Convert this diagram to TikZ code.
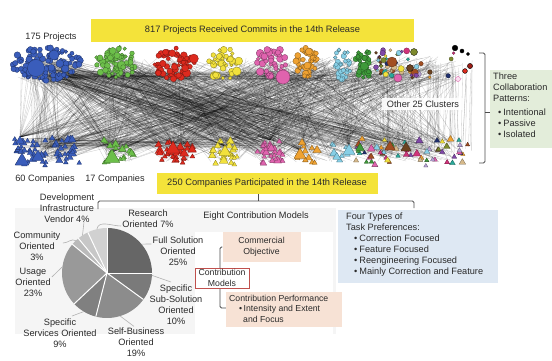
\documentclass[tikz,border=0pt]{standalone}
\usepackage{fontspec}
\setmainfont{Liberation Sans}
\usetikzlibrary{calc}
\definecolor{cblue}{HTML}{3A5DBB}
\definecolor{cgreen}{HTML}{6CBF4A}
\definecolor{cred}{HTML}{DD2A1E}
\definecolor{cyellow}{HTML}{F2E13C}
\definecolor{cpink}{HTML}{E063AE}
\definecolor{corange}{HTML}{EFA232}
\definecolor{ccyan}{HTML}{86CFE6}
\definecolor{cdgreen}{HTML}{3E9A3A}
\definecolor{cpurple}{HTML}{8048A8}
\definecolor{cbrown}{HTML}{A24E22}
\definecolor{cdbrown}{HTML}{6B4220}
\definecolor{colive}{HTML}{7D8A2E}
\definecolor{cteal}{HTML}{2AA99A}
\definecolor{clav}{HTML}{B7A2D6}
\definecolor{cmag}{HTML}{D0337A}
\definecolor{ctan}{HTML}{D6B98A}
\definecolor{cnavy}{HTML}{1F2F6E}
\definecolor{bannery}{HTML}{F4E33A}
\definecolor{peach}{HTML}{F7E2D5}
\definecolor{lblue}{HTML}{DEE8F3}
\definecolor{lgreen}{HTML}{E3EDDA}
\definecolor{txt}{HTML}{2A2A2A}
\definecolor{redbox}{HTML}{C0504D}
\definecolor{panel}{HTML}{F5F5F5}
\newcommand\circs[6]{%
\foreach \k in {1,...,#6}{%
\pgfmathsetmacro\aa{360*rnd}\pgfmathsetmacro\rf{sqrt(rnd)}%
\pgfmathsetmacro\px{#2+#4*\rf*cos(\aa)}%
\pgfmathsetmacro\py{#3+#5*\rf*sin(\aa)}%
\pgfmathsetmacro\rr{1.8+2.8*rnd*rnd}%
\filldraw[fill=#1,draw=#1!55!black,line width=0.3pt] (\px,\py) circle[radius=\rr pt];}}
\newcommand\onetri[4]{\filldraw[fill=#1,draw=#1!55!black,line width=0.3pt,line join=round] (#2,#3) +(0pt,#4 pt) -- +(-0.87*#4 pt,-0.5*#4 pt) -- +(0.87*#4 pt,-0.5*#4 pt) -- cycle;}
\newcommand\tris[6]{%
\foreach \k in {1,...,#6}{%
\pgfmathsetmacro\px{#2+#4*rand}%
\pgfmathsetmacro\py{#3+#5*rand}%
\pgfmathsetmacro\tsz{2.6+3*rnd*rnd}%
\onetri{#1}{\px}{\py}{\tsz}}}
\newcommand\hub[5]{% x y n spreadtop
\foreach \k in {1,...,#3}{%
\pgfmathsetmacro\xa{#4+#5*rnd}\pgfmathsetmacro\ya{58+22*rnd}%
\draw[netline] (\xa,\ya) -- (#1,#2);}}
\begin{document}
\begin{tikzpicture}[x=1pt,y=-1pt,
  lab/.style={font=\fontsize{9.2}{11}\selectfont, text=txt, inner sep=1pt},
  smalllab/.style={font=\fontsize{8.7}{10.8}\selectfont, text=txt, inner sep=1pt},
  ybox/.style={fill=bannery, font=\fontsize{9.3}{11}\selectfont, text=txt, inner sep=0pt},
  netline/.style={draw=black, opacity=0.21, line width=0.3pt},
  leader/.style={draw=gray!60, line width=0.6pt},
  brk/.style={draw=black!70, line width=0.8pt, rounded corners=1.5pt}]
\useasboundingbox (0,0) rectangle (552,360);
\pgfmathsetseed{7}
% background panel behind pie
\fill[panel] (15,208) rectangle (336,334);
\fill[white] (195,232) rectangle (333,334);
% ---------- network edges
\pgfmathdeclarerandomlist{tx}{{47}{47}{47}{47}{47}{117}{117}{117}{174}{174}{224}{272}{272}{307}{342}{364}{395}{420}{445}}
\pgfmathdeclarerandomlist{bx}{{47}{47}{47}{117}{117}{175}{175}{225}{270}{270}{270}{308}{340}{380}{400}{420}{445}}
\foreach \k in {1,...,850}{%
  \pgfmathrandomitem{\qa}{tx}\pgfmathrandomitem{\qb}{bx}%
  \pgfmathsetmacro\xa{\qa+18*rand}\pgfmathsetmacro\ya{68+12*rand}%
  \pgfmathsetmacro\xb{\qb+15*rand}\pgfmathsetmacro\yb{150+12*rand}%
  \draw[netline] (\xa,\ya) -- (\xb,\yb);}
\foreach \k in {1,...,60}{%
  \pgfmathsetmacro\xa{378+95*rnd}\pgfmathsetmacro\xb{\xa+5*rand}%
  \pgfmathsetmacro\ya{60+18*rnd}\pgfmathsetmacro\yb{140+15*rnd}%
  \draw[netline] (\xa,\ya) -- (\xb,\yb);}
\foreach \k in {1,...,40}{%
  \pgfmathsetmacro\xa{18+40*rnd}\pgfmathsetmacro\ya{138+10*rnd}%
  \pgfmathsetmacro\xb{200+100*rnd}\pgfmathsetmacro\yb{136+12*rnd}%
  \draw[netline] (\xa,\ya) -- (\xb,\yb);}
\foreach \k in {1,...,50}{%
  \pgfmathsetmacro\xa{20+60*rnd}\pgfmathsetmacro\ya{70+10*rnd}%
  \pgfmathsetmacro\xb{150+300*rnd}\pgfmathsetmacro\yb{70+12*rnd}%
  \draw[netline] (\xa,\ya) -- (\xb,\yb);}
\hub{112}{152}{40}{15}{330}
\hub{173}{144}{40}{15}{330}
\hub{225}{146}{35}{15}{330}
\hub{300}{150}{35}{100}{280}
\hub{349}{146}{20}{300}{80}
\hub{20}{137}{40}{15}{330}
\hub{270}{140}{30}{15}{330}
% ---------- top clusters (circles)
\circs{cblue}{47}{64}{35}{17}{115}
\filldraw[fill=cblue,draw=cblue!55!black,line width=0.3pt] (36,68) circle[radius=8.5pt];
\filldraw[fill=cblue,draw=cblue!55!black,line width=0.3pt] (54,55) circle[radius=5pt];
\circs{cgreen}{117}{63}{22}{16}{70}
\circs{cred}{174}{63}{21}{16}{65}
\circs{cyellow}{224}{64}{16}{16}{45}
\circs{cpink}{272}{63}{16}{16}{40}
\filldraw[fill=cpink,draw=cpink!55!black,line width=0.3pt] (283,77) circle[radius=7pt];
\circs{corange}{307}{62}{12}{15}{40}
\circs{ccyan}{342}{64}{9}{16}{30}
\circs{cdgreen}{364}{63}{9}{15}{26}
\pgfmathdeclarerandomlist{oc}{{cpurple}{cbrown}{cdbrown}{colive}{cteal}{clav}{cmag}{ctan}{cpink}{corange}{ccyan}{cdgreen}{cyellow}{cnavy}{cpurple}{cbrown}}
\foreach \k in {1,...,60}{%
  \pgfmathrandomitem{\cc}{oc}%
  \pgfmathsetmacro\px{376+95*rnd*rnd}\pgfmathsetmacro\py{50+28*rnd}%
  \pgfmathsetmacro\rr{1.4+2.4*rnd*rnd}%
  \filldraw[fill=\cc,draw=\cc!55!black,line width=0.3pt] (\px,\py) circle[radius=\rr pt];}
\filldraw[fill=cbrown,draw=cbrown!55!black,line width=0.3pt] (392,62) circle[radius=5pt];
\filldraw[fill=cdbrown,draw=black,line width=0.3pt] (410,68) circle[radius=3.5pt];
\filldraw[fill=colive,draw=black,line width=0.3pt] (414,52) circle[radius=3.5pt];
\filldraw[fill=cpink,draw=cpink!55!black,line width=0.3pt] (398,78) circle[radius=4pt];
\filldraw[fill=black] (455,48) circle[radius=2.8pt] (462,51) circle[radius=2pt] (468,54) circle[radius=1.6pt];
\filldraw[fill=cred!70!black] (470,66) circle[radius=2.6pt];
\filldraw[fill=cred] (465,71) circle[radius=2.4pt];
\filldraw[fill=cpink!20,draw=cpink] (458,79) circle[radius=2.5pt];
% ---------- bottom clusters (triangles)
\tris{cblue}{47}{152}{33}{14}{55}
\onetri{cblue}{22}{161}{8}
\onetri{cblue}{38}{157}{7}
\onetri{cblue}{20}{141}{5}
\tris{cgreen}{118}{152}{16}{12}{18}
\onetri{cgreen}{112}{158}{9}
\tris{cred}{175}{151}{18}{12}{28}
\onetri{cred}{173}{149}{8}
\tris{cyellow}{225}{152}{13}{13}{28}
\onetri{cyellow}{225}{152}{7}
\tris{cpink}{270}{152}{13}{12}{30}
\tris{corange}{308}{152}{12}{11}{12}
\onetri{corange}{300}{155}{7}
\tris{ccyan}{340}{153}{9}{12}{10}
\onetri{ccyan}{349}{151}{7}
\foreach \k in {1,...,60}{%
  \pgfmathrandomitem{\cc}{oc}%
  \pgfmathsetmacro\px{356+112*rnd}\pgfmathsetmacro\py{138+28*rnd}%
  \pgfmathsetmacro\tsz{2.4+2.6*rnd*rnd}%
  \onetri{\cc}{\px}{\py}{\tsz}}
\onetri{cbrown}{390}{147}{6}
\onetri{cdbrown}{406}{148}{6}
\onetri{cdgreen}{360}{148}{5}
% ---------- labels of the network
\node[lab] (projects) at (51,37) {175 Projects};
\node[ybox, minimum width=323pt, minimum height=23pt] (banner1) at (252.5,30.5) {817 Projects Received Commits in the 14th Release};
\node[lab, fill=white, fill opacity=0.9, text opacity=1, inner xsep=5pt, inner ysep=3pt] (others) at (423,104) {Other 25 Clusters};
\node[lab] (comp60) at (45,179) {60 Companies};
\node[lab] (comp17) at (115,179) {17 Companies};
% right bracket and green box
\coordinate (rbt) at (479,53);
\coordinate (rbb) at (479,163);
\coordinate (rbm) at (490,112);
\draw[brk] (rbt) -- (485,53) -- (485,163) -- (rbb);
\draw[brk] (485,112) -- (rbm);
\node[fill=lgreen, anchor=north west, minimum width=62pt, minimum height=78pt, inner sep=0pt] (gbox) at (490,70) {};
\node[lab, anchor=north west, align=left] (collab) at (492,72) {Three\\Collaboration\\Patterns:\\[3pt]\hspace*{5pt}•\hspace{2pt}Intentional\\\hspace*{5pt}•\hspace{2pt}Passive\\\hspace*{5pt}•\hspace{2pt}Isolated};
% ---------- second banner and bracket
\node[ybox, minimum width=221pt, minimum height=21pt] (banner2) at (267,183) {250 Companies Participated in the 14th Release};
\coordinate (bl) at (98,209);
\coordinate (br) at (414,208);
\draw[brk] (bl) -- (98,201) -- (414,201) -- (br);
\draw[brk] (258,201) -- (banner2.south -| 258,0);
% ---------- pie chart
\coordinate (pc) at (107,273);
\def\pr{45pt}
\fill[black!60] (pc) -- ++(90:\pr) arc[start angle=90, end angle=0, radius=\pr] -- cycle;
\fill[black!52] (pc) -- ++(0:\pr) arc[start angle=0, end angle=-36, radius=\pr] -- cycle;
\fill[black!45] (pc) -- ++(-36:\pr) arc[start angle=-36, end angle=-104.4, radius=\pr] -- cycle;
\fill[black!50] (pc) -- ++(-104.4:\pr) arc[start angle=-104.4, end angle=-136.8, radius=\pr] -- cycle;
\fill[black!40] (pc) -- ++(-136.8:\pr) arc[start angle=-136.8, end angle=-219.6, radius=\pr] -- cycle;
\fill[black!27] (pc) -- ++(-219.6:\pr) arc[start angle=-219.6, end angle=-230.4, radius=\pr] -- cycle;
\fill[black!22] (pc) -- ++(-230.4:\pr) arc[start angle=-230.4, end angle=-244.8, radius=\pr] -- cycle;
\fill[black!18] (pc) -- ++(-244.8:\pr) arc[start angle=-244.8, end angle=-270, radius=\pr] -- cycle;
\foreach \ang in {90,0,-36,-104.4,-136.8,-219.6,-230.4,-244.8}{
  \draw[white, line width=1pt] (pc) -- ++(\ang:\pr);}
% pie labels
\node[lab, align=center] (devinf) at (67,208) {Development\\Infrastructure\\Vendor 4\%};
\node[lab, align=center] (research) at (148,218.5) {Research\\Oriented 7\%};
\node[lab, align=center] (fullsol) at (178,251) {Full Solution\\Oriented\\25\%};
\node[lab, align=center] (subsol) at (176,304.5) {Specific\\Sub-Solution\\Oriented\\10\%};
\node[lab, align=center] (selfbus) at (136,342) {Self-Business\\Oriented\\19\%};
\node[lab, align=center] (services) at (60,333) {Specific\\Services Oriented\\9\%};
\node[lab, align=center] (usage) at (33,282) {Usage\\Oriented\\23\%};
\node[lab, align=center] (community) at (37,246.5) {Community\\Oriented\\3\%};
% leader lines
\draw[leader] ($(pc)+(-257:\pr)$) to[out=80,in=180] (research.west |- 0,226);
\draw[leader] ($(pc)+(123:\pr)$) -- (84,222);
\draw[leader] ($(pc)+(134:\pr)$) to[out=150,in=0] (63,243);
\draw[leader] ($(pc)+(172:\pr)$) -- (usage.east |- 0,277);
\draw[leader] ($(pc)+(-121:\pr)$) -- (72,316);
\draw[leader] ($(pc)+(-73:\pr)$) -- (selfbus.north -| 134,0);
\draw[leader] ($(pc)+(-3:\pr)$) -- (171,282);
\draw[leader] ($(pc)+(40:\pr)$) -- (fullsol.west |- 0,244);
% ---------- contribution models
\node[lab] (eight) at (256,216) {Eight Contribution Models};
\node[fill=peach, minimum width=78pt, minimum height=30pt, inner sep=0pt] (commbox) at (261.5,247) {};
\node[smalllab, align=center] (commtxt) at (commbox) {Commercial\\Objective};
\node[fill=peach, minimum width=116pt, minimum height=35pt, inner sep=0pt] (perfbox) at (284,309.5) {};
\node[smalllab, anchor=north west, align=left] (perftxt) at (228,293.5) {Contribution Performance\\\hspace*{10pt}•\hspace{1.5pt}Intensity and Extent\\\hspace*{14pt}and Focus};
\draw[brk] (commbox.west) -- (220,247) -- (220,308) -- (perfbox.west |- 0,308);
\node[draw=redbox, fill=white, line width=0.8pt, minimum width=54pt, minimum height=20pt, inner sep=0pt, smalllab, align=center] (cmodels) at (222,278) {Contribution\\Models};
% ---------- task preferences
\node[fill=lblue, anchor=north west, minimum width=160pt, minimum height=73pt, inner sep=0pt] (bluebox) at (338,210) {};
\node[lab, anchor=north west, align=left] (tasks) at (345,211.5) {Four Types of\\Task Preferences:\\\hspace*{8pt}•\hspace{2pt}Correction Focused\\\hspace*{8pt}•\hspace{2pt}Feature Focused\\\hspace*{8pt}•\hspace{2pt}Reengineering Focused\\\hspace*{8pt}•\hspace{2pt}Mainly Correction and Feature};
\end{tikzpicture}
\end{document}
